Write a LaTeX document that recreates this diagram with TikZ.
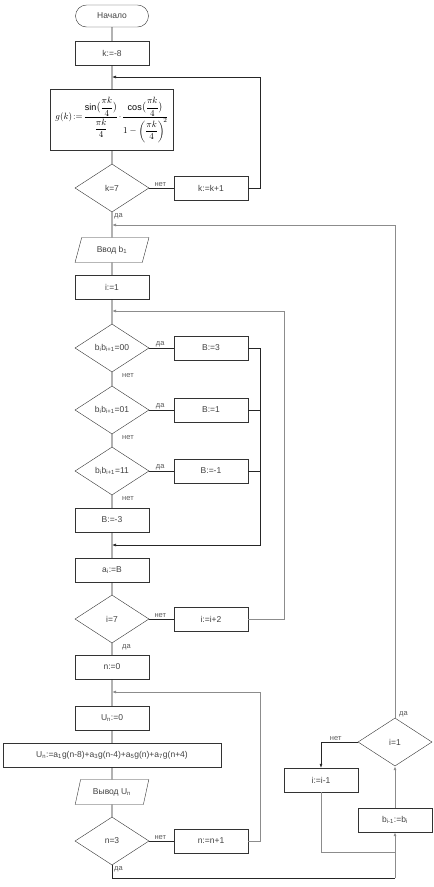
\documentclass[tikz,border=0pt]{standalone}
\usepackage{amsmath}
\usepackage{fontspec}
\setmainfont{Liberation Sans}
\usetikzlibrary{shapes.geometric,arrows.meta,positioning}
\newcommand{\ix}[1]{\textsubscript{#1}}
\begin{document}
\begin{tikzpicture}[x=1pt,y=-1pt,
    every node/.style={font=\fontsize{8.5}{10}\selectfont, text=black!75},
    term/.style={draw=black!80, rounded corners=11pt, minimum width=73pt, minimum height=22pt},
    blok/.style={draw=black!80, minimum width=74pt, minimum height=24pt, inner sep=1pt},
    usl/.style={draw=black!80, diamond, aspect=1.54, minimum width=74pt, minimum height=48pt, inner sep=0pt},
    vvod/.style={draw=black!80, trapezium, trapezium left angle=70, trapezium right angle=110,
        trapezium stretches=true, minimum width=74pt, minimum height=25pt, inner sep=1pt},
    metka/.style={font=\fontsize{7.5}{9}\selectfont, text=black!65, inner sep=1pt},
    lin/.style={draw=black!85, line width=0.6pt},
    glin/.style={draw=black!45, line width=0.9pt},
    strel/.style={-{Latex[length=4pt,width=3pt]}}]
    \useasboundingbox (0,0) rectangle (434,887);

    % Blocks of the main column
    \node[term] (start) at (112,16) {Начало};
    \node[blok] (k8) at (112,53) {k:=-8};
    \node[blok, minimum width=123pt, minimum height=61pt, inner sep=0pt, text=black] (gk) at (112,120)
        {\fontsize{10}{12}\selectfont\resizebox{113pt}{!}{$\displaystyle g(k)\!:=\!\frac{\sin\!\big(\dfrac{\pi k}{4}\big)}{\dfrac{\pi k}{4}}\!\cdot\!
        \frac{\cos\!\big(\dfrac{\pi k}{4}\big)}{1-\left(\dfrac{\pi k}{4}\right)^{\!2}}$}};
    \node[usl] (c7) at (112,188) {k=7};
    \node[blok] (kinc) at (211,188) {k:=k+1};
    \node[vvod] (vvb) at (112,250) {Ввод b\ix{1}};
    \node[blok] (i1) at (112,287) {i:=1};
    \node[usl] (d00) at (112,348) {b\ix{i}b\ix{i+1}=00};
    \node[blok] (b3) at (211,348) {B:=3};
    \node[usl] (d01) at (112,410) {b\ix{i}b\ix{i+1}=01};
    \node[blok] (b1) at (211,410) {B:=1};
    \node[usl] (d11) at (112,471) {b\ix{i}b\ix{i+1}=11};
    \node[blok] (bm1) at (211,471) {B:=-1};
    \node[blok] (bm3) at (112,520) {B:=-3};
    \node[blok] (ai) at (112,570) {a\ix{i}:=B};
    \node[usl] (d7) at (112,619) {i=7};
    \node[blok] (iinc) at (211,619) {i:=i+2};
    \node[blok] (n0) at (112,667) {n:=0};
    \node[blok] (u0) at (112,718) {U\ix{n}:=0};
    \node[blok, minimum width=218pt] (usum) at (112,755)
        {U\ix{n}:=a\ix{1}g(n-8)+a\ix{3}g(n-4)+a\ix{5}g(n)+a\ix{7}g(n+4)};
    \node[vvod] (vyv) at (112,792) {Вывод U\ix{n}};
    \node[usl] (d3) at (112,841) {n=3};
    \node[blok] (ninc) at (211,841) {n:=n+1};

    % Right column
    \node[usl] (di1) at (395,742) {i=1};
    \node[blok] (idec) at (321,780) {i:=i-1};
    \node[blok] (bsh) at (395,820) {b\ix{i-1}:=b\ix{i}};

    % Junctions
    \coordinate (j1) at (112,77);
    \coordinate (j2) at (112,225);
    \coordinate (j3) at (112,311);
    \coordinate (j4) at (112,545);
    \coordinate (j5) at (112,692);
    \coordinate (niz) at (395,878);
    \coordinate (sliv) at (395,852);

    % Main line
    \draw[lin] (start) -- (k8) -- (gk) -- (c7) -- (vvb) -- (i1) -- (d00) -- (d01)
        -- (d11) -- (bm3) -- (ai) -- (d7) -- (n0) -- (u0) -- (usum) -- (vyv) -- (d3);

    % Branches
    \draw[lin] (c7.east) -- node[metka, above, pos=0.45] {нет} (kinc.west);
    \draw[lin, strel] (kinc.east) -- ++(12,0) |- (j1);
    \draw[lin] (d00.east) -- node[metka, above, pos=0.45] {да} (b3.west);
    \draw[lin] (d01.east) -- node[metka, above, pos=0.45] {да} (b1.west);
    \draw[lin] (d11.east) -- node[metka, above, pos=0.45] {да} (bm1.west);
    \draw[lin] (b1.east) -- ++(12,0);
    \draw[lin] (bm1.east) -- ++(12,0);
    \draw[lin, strel] (b3.east) -- ++(12,0) |- (j4);
    \draw[lin] (d7.east) -- node[metka, above, pos=0.45] {нет} (iinc.west);
    \draw[glin, strel] (iinc.east) -- ++(36,0) |- (j3);
    \draw[lin] (d3.east) -- node[metka, above, pos=0.45] {нет} (ninc.west);
    \draw[glin, strel] (ninc.east) -- ++(12,0) |- (j5);

    % Labels under the conditions
    \node[metka, below right=0pt and 1pt of c7.south] {да};
    \node[metka, below right=0pt and 9pt of d00.south] {нет};
    \node[metka, below right=0pt and 9pt of d01.south] {нет};
    \node[metka, below right=0pt and 9pt of d11.south] {нет};
    \node[metka, below right=0pt and 9pt of d7.south] {да};
    \node[metka, below right=0pt and 1pt of d3.south] {да};

    % Shift of b
    \draw[lin] (d3.south) |- (niz);
    \draw[glin, strel] (niz) -- (bsh.south);
    \draw[glin] (idec.south) |- (sliv);
    \draw[glin, strel] (bsh.north) -- (di1.south);
    \draw[lin, strel] (di1.west) -| node[metka, above, pos=0.3] {нет} (idec.north);
    \draw[glin, strel] (di1.north) |- (j2);
    \node[metka, above right=0pt and 3pt of di1.north] {да};
\end{tikzpicture}
\end{document}
